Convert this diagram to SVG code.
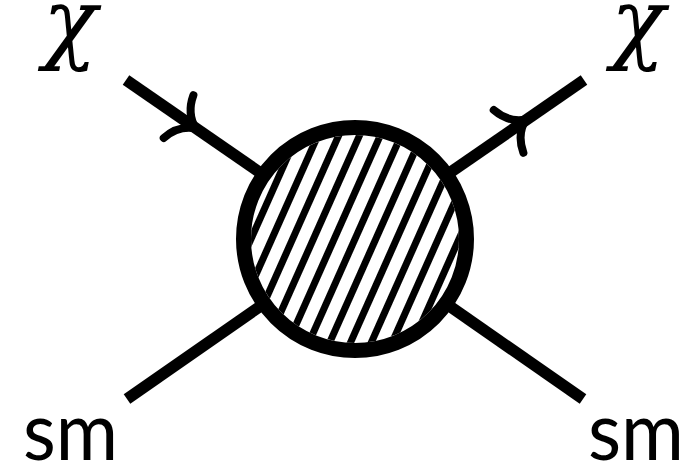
<svg xmlns="http://www.w3.org/2000/svg" xmlns:xlink="http://www.w3.org/1999/xlink" width="686" height="472" viewBox="0 0 686 472">
<style>
.line{stroke:#000;stroke-width:11.5;fill:none;stroke-linecap:butt}
.arrow{stroke:#000;stroke-width:8;fill:none;stroke-linecap:round;stroke-linejoin:round}
.chi{font-family:"DejaVu Serif","Liberation Serif",serif;font-style:italic;font-size:90px;fill:#000}
.sm{font-family:Lato,"Open Sans",sans-serif;font-size:82px;fill:#000}
</style>
<defs>
<pattern id="hatch" patternUnits="userSpaceOnUse" width="19" height="19" patternTransform="translate(355,239) rotate(24) translate(-3.5,0)">
<rect x="0" y="0" width="7" height="19" fill="#000"/>
</pattern>
<path id="head" class="arrow" d="M -20,-26 Q -15,-7 1,0 Q -15,7 -20,26"/>
</defs>
<g id="connectors">
<line class="line" x1="126" y1="80" x2="262" y2="174"/>
<line class="line" x1="584" y1="80" x2="448" y2="174"/>
<line class="line" x1="127" y1="399" x2="262" y2="305"/>
<line class="line" x1="583" y1="399" x2="448" y2="305"/>
<use xlink:href="#head" transform="translate(195,128) rotate(34.8)"/>
<use xlink:href="#head" transform="translate(525,120) rotate(-34.8)"/>
</g>
<g id="blob">
<circle cx="355" cy="239" r="104" fill="#fff"/>
<circle cx="355" cy="239" r="104" fill="url(#hatch)"/>
<circle cx="355" cy="239" r="111.5" fill="none" stroke="#000" stroke-width="15"/>
</g>
<g id="chi-in"><text class="chi" x="43" y="52" textLength="54" lengthAdjust="spacingAndGlyphs">χ</text></g>
<g id="chi-out"><text class="chi" x="611" y="52" textLength="54" lengthAdjust="spacingAndGlyphs">χ</text></g>
<g id="sm-in"><text class="sm" x="23" y="460" textLength="95" lengthAdjust="spacingAndGlyphs">sm</text></g>
<g id="sm-out"><text class="sm" x="588" y="460" textLength="96" lengthAdjust="spacingAndGlyphs">sm</text></g>
</svg>
